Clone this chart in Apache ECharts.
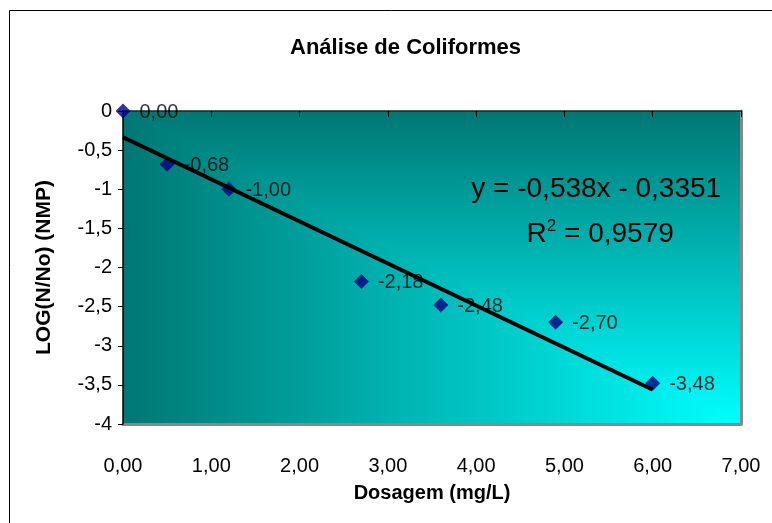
<!DOCTYPE html>
<html><head><meta charset="utf-8">
<script src="https://cdn.jsdelivr.net/npm/echarts@6/dist/echarts.min.js"></script>
<style>html,body{margin:0;padding:0;background:#fff}#c{width:772px;height:523px}</style>
</head><body><div id="c"></div>
<script>
const dosagem = [0, 0.5, 1.2, 2.7, 3.6, 4.9, 6.0];
const logNNo = [0, -0.68, -1.00, -2.18, -2.48, -2.70, -3.48];
const pointLabels = ['0,00', '-0,68', '-1,00', '-2,18', '-2,48', '-2,70', '-3,48'];
const trendX = [0, 6];
const trendY = [-0.3351, -3.5631];
const xTickLabels = ['0,00', '1,00', '2,00', '3,00', '4,00', '5,00', '6,00', '7,00'];
const yTickLabels = ['-4', '-3,5', '-3', '-2,5', '-2', '-1,5', '-1', '-0,5', '0'];
const chartTitle = 'Análise de Coliformes';
const xTitle = 'Dosagem (mg/L)';
const yTitle = 'LOG(N/No) (NMP)';
const eqLine = 'y = -0,538x - 0,3351';
const r2Value = ' = 0,9579';

const FONT = 'Arial, "Liberation Sans", sans-serif';
const DARK = '#007773', LIGHT = '#00ffff';

const chart = echarts.init(document.getElementById('c'), null, {renderer: 'canvas'});
const scatterData = dosagem.map((x, i) => [x, logNNo[i]]);
const trendData = trendX.map((x, i) => [x, trendY[i]]);

const option = {
  backgroundColor: '#ffffff',
  animation: false,
  title: {
    text: chartTitle, left: 285, top: 32,
    textStyle: {fontFamily: FONT, fontSize: 22, fontWeight: 'bold', color: '#000'}
  },
  grid: {
    left: 123, right: 31, top: 111, bottom: 99,
    show: true, borderWidth: 0,
    backgroundColor: new echarts.graphic.LinearGradient(0, 0, 1, 0, [
      {offset: 0, color: DARK}, {offset: 1, color: LIGHT}
    ])
  },
  xAxis: [
    {
      type: 'value', position: 'bottom', min: 0, max: 7, interval: 1, z: 5,
      axisLine: {show: true, onZero: false, lineStyle: {color: '#888', width: 3}},
      axisTick: {show: false}, splitLine: {show: false},
      axisLabel: {margin: 32, fontFamily: FONT, fontSize: 20, color: '#000',
        formatter: v => xTickLabels[Math.round(v)]},
      name: xTitle, nameLocation: 'middle', nameGap: 59,
      nameTextStyle: {fontFamily: FONT, fontSize: 20, fontWeight: 'bold', color: '#000'}
    },
    {
      type: 'value', position: 'top', min: 0, max: 7, interval: 1, z: 6,
      axisLine: {show: true, onZero: false, lineStyle: {color: '#222', width: 1.5}},
      axisTick: {show: true, inside: true, length: 6, lineStyle: {color: '#000'}},
      axisLabel: {show: false}, splitLine: {show: false}
    }
  ],
  yAxis: [
    {
      type: 'value', position: 'left', min: -4, max: 0, interval: 0.5, z: 6,
      axisLine: {show: true, onZero: false, lineStyle: {color: '#000', width: 1.5}},
      axisTick: {show: true, inside: false, length: 5, lineStyle: {color: '#000'}},
      axisLabel: {margin: 11, fontFamily: FONT, fontSize: 20, color: '#000',
        formatter: v => yTickLabels[Math.round((v + 4) * 2)]},
      splitLine: {show: false},
      name: yTitle, nameLocation: 'middle', nameGap: 68, nameRotate: 90,
      nameTextStyle: {fontFamily: FONT, fontSize: 21, fontWeight: 'bold', color: '#000'}
    },
    {
      type: 'value', position: 'right', min: -4, max: 0, interval: 0.5, z: 5,
      axisLine: {show: true, onZero: false, lineStyle: {color: '#888', width: 3}},
      axisTick: {show: false}, axisLabel: {show: false}, splitLine: {show: false}
    }
  ],
  series: [
    {
      type: 'scatter', xAxisIndex: 0, yAxisIndex: 0, z: 8,
      symbol: 'diamond', symbolSize: [15, 15],
      itemStyle: {color: '#000080'},
      data: scatterData,
      label: {
        show: true, position: 'right', distance: 9, offset: [0, 1],
        fontFamily: FONT, fontSize: 20, color: '#000',
        formatter: p => pointLabels[p.dataIndex]
      }
    },
    {
      type: 'line', xAxisIndex: 0, yAxisIndex: 0, z: 10,
      data: trendData, symbol: 'none', silent: true,
      lineStyle: {color: '#000', width: 4}
    }
  ]
};
chart.setOption(option);

// Excel "from corner" shading: upper-right triangle uses vertical gradient
const pTL = chart.convertToPixel({xAxisIndex: 0, yAxisIndex: 0}, [0, 0]);
const pTR = chart.convertToPixel({xAxisIndex: 0, yAxisIndex: 0}, [7, 0]);
const pBR = chart.convertToPixel({xAxisIndex: 0, yAxisIndex: 0}, [7, -4]);
const eqPos = chart.convertToPixel({xAxisIndex: 0, yAxisIndex: 0}, [5.36, -1.0]);
const r2Pos = chart.convertToPixel({xAxisIndex: 0, yAxisIndex: 0}, [5.36, -1.55]);

chart.setOption({
  graphic: [
    {
      type: 'polygon', z: 1, silent: true,
      shape: {points: [pTL, pTR, pBR]},
      style: {
        fill: new echarts.graphic.LinearGradient(0, 0, 0, 1, [
          {offset: 0, color: DARK}, {offset: 1, color: LIGHT}
        ])
      }
    },
    {
      type: 'rect', z: 0, silent: true,
      shape: {x: 9.5, y: 10.5, width: 900, height: 800},
      style: {fill: 'none', stroke: '#000', lineWidth: 1}
    },
    {
      type: 'text', z: 20, x: eqPos[0], y: eqPos[1],
      style: {text: eqLine, fontFamily: FONT, fontSize: 28, fill: '#000',
        textAlign: 'center', textVerticalAlign: 'middle'}
    },
    {
      type: 'text', z: 20, x: r2Pos[0] + 4, y: r2Pos[1],
      style: {
        text: '{a|R}{s|2}{a|' + r2Value + '}',
        fontFamily: FONT, fontSize: 28, fill: '#000',
        textAlign: 'center', textVerticalAlign: 'middle',
        rich: {
          a: {fontFamily: FONT, fontSize: 28, fill: '#000', color: '#000', lineHeight: 32, verticalAlign: 'bottom'},
          s: {fontFamily: FONT, fontSize: 17, fill: '#000', color: '#000', lineHeight: 32, verticalAlign: 'top', padding: [2, 0, 0, 0]}
        }
      }
    }
  ]
});
</script>
</body></html>
